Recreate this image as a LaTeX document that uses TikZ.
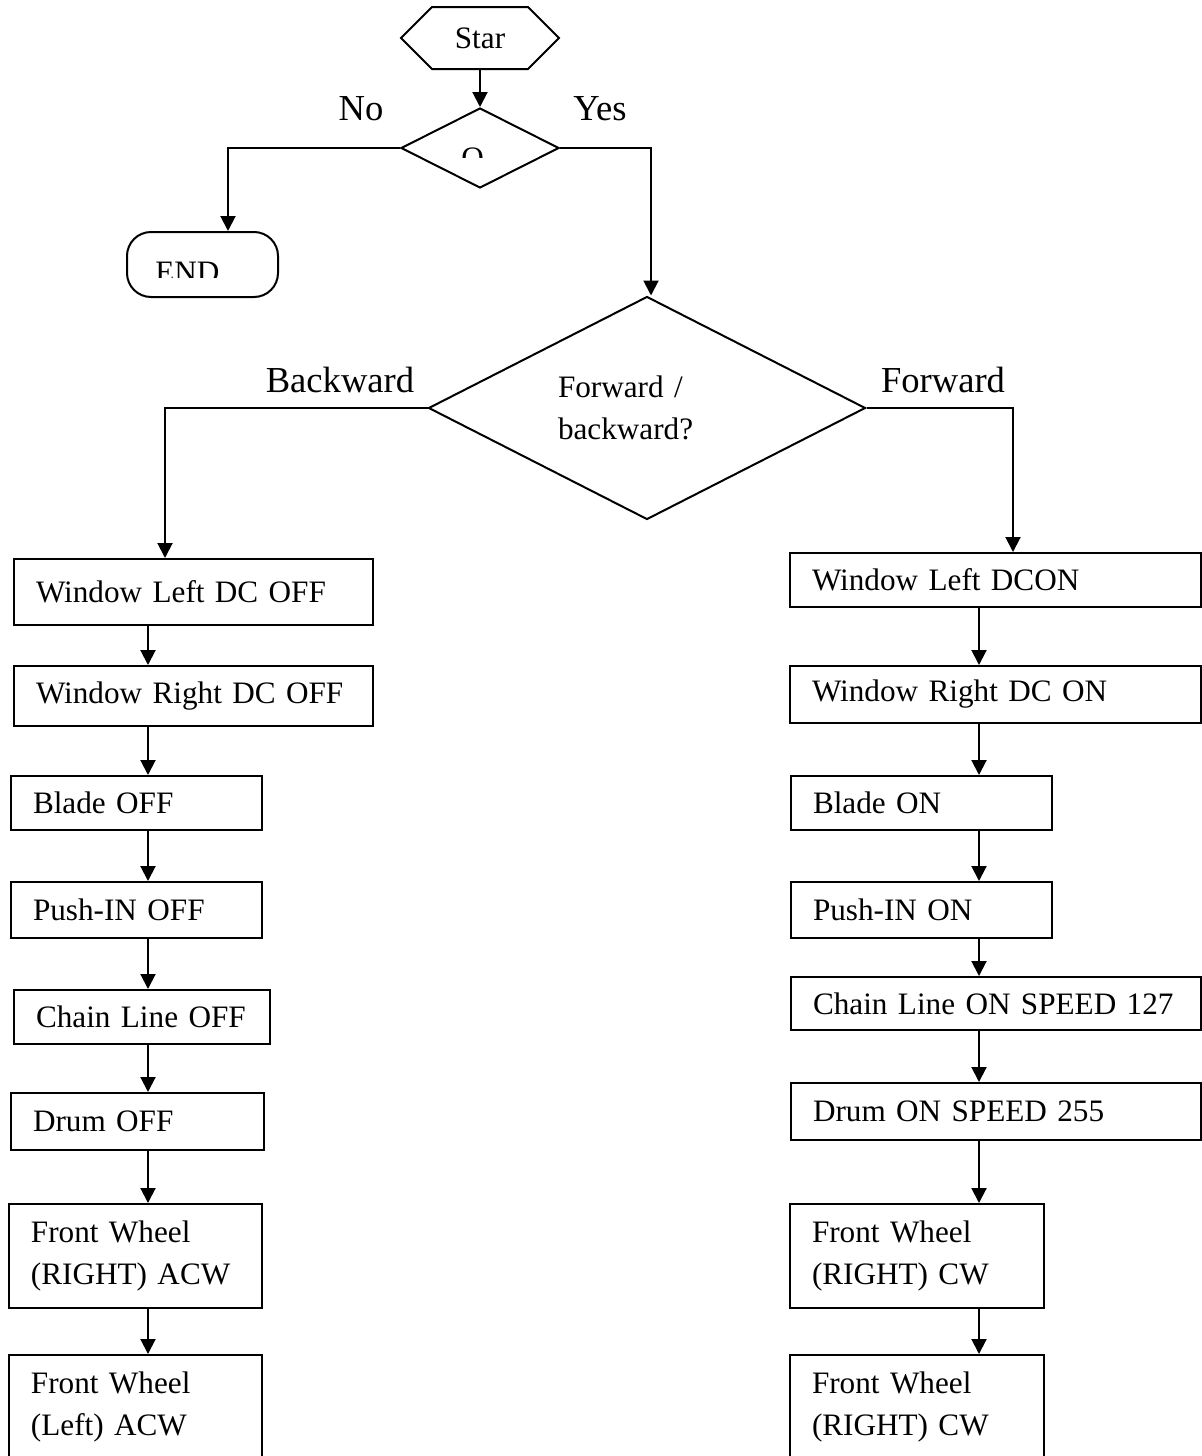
\documentclass[tikz,border=0pt]{standalone}
\usepackage{fontspec}
\setmainfont{Liberation Serif}
\usetikzlibrary{arrows.meta,shapes.geometric,shapes.symbols}

\tikzstyle{stage}=[draw, line width=1pt, anchor=north west, align=left,
  inner xsep=11pt, inner ysep=0pt, font=\fontsize{15.6pt}{21pt}\selectfont]
\tikzstyle{choice}=[draw, line width=1pt, diamond, aspect=2, inner sep=0pt,
  font=\fontsize{15.6pt}{21pt}\selectfont]
\tikzstyle{answer}=[anchor=base, inner sep=0pt,
  font=\fontsize{18.3pt}{22pt}\selectfont]
\tikzstyle{flow}=[line width=1pt, -{Triangle[length=7.5pt, width=7.5pt]}]

\begin{document}
\begin{tikzpicture}[x=0.5pt, y=-0.5pt]
\clip (0,0) rectangle (1202,1456);
%
\draw(480,38) node[draw, line width=1pt, signal, signal to=west and east,
  minimum width=79pt, minimum height=31pt,
  font=\fontsize{15.6pt}{21pt}\selectfont](start){Star};
\draw(480,148) node[choice, minimum width=79pt, minimum height=40pt](onoff){};
\draw[flow] (start.south) -- (onoff.north);
\begin{scope}
  \clip (440,140) rectangle (520,157);
  \node[anchor=base west, inner sep=0pt,
    font=\fontsize{15.6pt}{21pt}\selectfont] (onofftext) at (461,168) {O};
\end{scope}
\node[answer] (no) at (361,120) {No};
\node[answer] (yes) at (600,120) {Yes};
%
\draw(202.5,264.5) node[draw, line width=1pt, rounded corners=12pt,
  minimum width=75.5pt, minimum height=32.5pt](finish){};
\begin{scope}
  \clip (140,250) rectangle (260,277);
  \node[anchor=base west, inner sep=0pt,
    font=\fontsize{15.6pt}{21pt}\selectfont] (finishtext) at (155,282) {END};
\end{scope}
\coordinate (noturn) at (228,0);
\draw[flow] (onoff.west) -| (finish.north -| noturn);
%
\draw(647,408) node[choice, minimum width=218.5pt, minimum height=111.5pt,
  text width=89pt, align=left](direction){Forward /\\backward?};
\coordinate (yesturn) at (651,0);
\draw[flow] (onoff.east) -| (direction.north -| yesturn);
\node[answer] (backward) at (340,392) {Backward};
\node[answer] (forward) at (943,392) {Forward};
%
% backward column
\draw(13,558) node[stage, text width=157.5pt, minimum height=33pt](L1){Window Left DC OFF};
\draw(13,665) node[stage, text width=157.5pt, minimum height=30pt](L2){Window Right DC OFF};
\draw(10,775) node[stage, text width=103.5pt, minimum height=27pt](L3){Blade OFF};
\draw(10,881) node[stage, text width=103.5pt, minimum height=28pt](L4){Push-IN OFF};
\draw(13,989) node[stage, text width=106pt, minimum height=27pt](L5){Chain Line OFF};
\draw(10,1092) node[stage, text width=104.5pt, minimum height=28.5pt](L6){Drum OFF};
\draw(8,1203) node[stage, text width=104.5pt, minimum height=52pt](L7){Front Wheel\\(RIGHT) ACW};
\draw(8,1354) node[stage, text width=104.5pt, minimum height=52pt](L8){Front Wheel\\(Left) ACW};
%
\coordinate (backturn) at (165,0);
\coordinate (lcol) at (148,0);
\draw[flow] (direction.west) -| (L1.north -| backturn);
\draw[flow] (L1.south -| lcol) -- (L2.north -| lcol);
\draw[flow] (L2.south -| lcol) -- (L3.north -| lcol);
\draw[flow] (L3.south -| lcol) -- (L4.north -| lcol);
\draw[flow] (L4.south -| lcol) -- (L5.north -| lcol);
\draw[flow] (L5.south -| lcol) -- (L6.north -| lcol);
\draw[flow] (L6.south -| lcol) -- (L7.north -| lcol);
\draw[flow] (L7.south -| lcol) -- (L8.north -| lcol);
%
% forward column
\draw(789,552) node[stage, text width=183.5pt, minimum height=27pt](R1){Window Left DCON};
\draw(789,665) node[stage, text width=183.5pt, minimum height=28.5pt](R2){Window Right DC ON};
\draw(790,775) node[stage, text width=108.5pt, minimum height=27pt](R3){Blade ON};
\draw(790,881) node[stage, text width=108.5pt, minimum height=28pt](R4){Push-IN ON};
\draw(790,976) node[stage, text width=183pt, minimum height=26.5pt](R5){Chain Line ON SPEED 127};
\draw(790,1082) node[stage, text width=183pt, minimum height=28.5pt](R6){Drum ON SPEED 255};
\draw(789,1203) node[stage, text width=105pt, minimum height=52pt](R7){Front Wheel\\(RIGHT) CW};
\draw(789,1354) node[stage, text width=105pt, minimum height=52pt](R8){Front Wheel\\(RIGHT) CW};
%
\coordinate (foreturn) at (1013,0);
\coordinate (rcol) at (979,0);
\draw[flow] (direction.east) -| (R1.north -| foreturn);
\draw[flow] (R1.south -| rcol) -- (R2.north -| rcol);
\draw[flow] (R2.south -| rcol) -- (R3.north -| rcol);
\draw[flow] (R3.south -| rcol) -- (R4.north -| rcol);
\draw[flow] (R4.south -| rcol) -- (R5.north -| rcol);
\draw[flow] (R5.south -| rcol) -- (R6.north -| rcol);
\draw[flow] (R6.south -| rcol) -- (R7.north -| rcol);
\draw[flow] (R7.south -| rcol) -- (R8.north -| rcol);
\end{tikzpicture}
\end{document}
